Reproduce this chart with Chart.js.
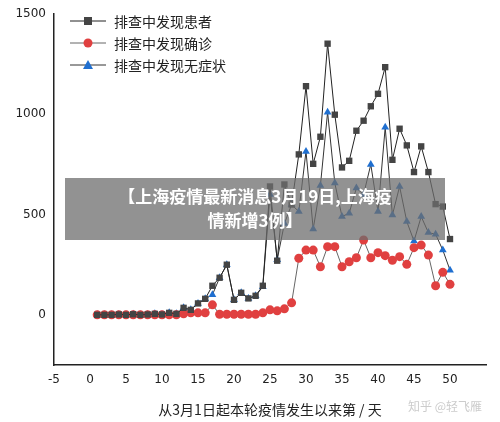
<!DOCTYPE html>
<html><head><meta charset="utf-8">
<script src="https://cdn.jsdelivr.net/npm/chart.js@4/dist/chart.umd.min.js"></script>
<style>
body{margin:0;background:#fff;font-family:"Noto Sans CJK SC",sans-serif}
#wrap{position:relative;width:500px;height:422px}
#legend{position:absolute;left:70px;top:10px;font-size:14px;color:#222;line-height:22px}
#legend div{display:flex;align-items:center}
#legend canvas{margin-right:8px}
#banner{position:absolute;left:65px;top:178px;width:380px;height:62px;background:rgba(110,110,110,.75);color:#fff;font-weight:bold;font-size:17px;text-align:center;line-height:24px;padding-top:6px;box-sizing:border-box}
#wm{position:absolute;right:18px;bottom:8px;color:#ccc;font-size:12px}
</style></head>
<body><div id="wrap"><canvas id="c" width="500" height="422"></canvas>
<div id="legend"></div>
<div id="banner">【上海疫情最新消息3月19日,上海疫<br>情新增3例】</div>
<div id="wm">知乎 @轻飞雁</div></div>
<script>
const days=[];for(let d=1;d<=50;d++)days.push(d);
const names=["排查中发现患者","排查中发现确诊","排查中发现无症状"];
const patients=[0,0,0,2,0,3,0,2,5,2,10,5,35,25,57,80,145,185,250,75,110,82,95,145,640,270,650,550,800,1140,753,888,1352,998,735,768,918,968,1040,1102,1235,773,928,845,712,840,712,552,540,378];
const confirmed=[0,0,0,0,0,0,0,0,0,0,0,0,5,10,10,10,50,3,3,3,3,3,3,10,25,20,30,60,282,323,323,240,340,340,240,265,285,373,285,310,295,272,290,252,335,348,298,145,212,152];
const asymptomatic=[0,0,0,2,0,3,0,2,5,2,10,5,35,25,57,80,100,185,250,75,110,82,95,140,600,275,455,550,515,815,428,645,1010,657,490,507,632,600,750,515,935,498,640,465,368,490,410,402,323,223];
const colors=["#444444","#e04040","#1f6fd0"];
const shapes=["rect","circle","triangle"];
const lineColors=["#222","#666","#333"];

const sets=[patients,confirmed,asymptomatic].map((v,i)=>({
label:names[i],data:days.map((d,j)=>({x:d,y:v[j]})),
borderColor:lineColors[i],borderWidth:1,backgroundColor:colors[i],
pointStyle:shapes[i],pointRadius:4.5,pointBorderWidth:0,pointBorderColor:colors[i]
}));

const lg=document.getElementById("legend");
names.forEach((n,i)=>{
const row=document.createElement("div");
const cv=document.createElement("canvas");cv.width=36;cv.height=14;
const g=cv.getContext("2d");
g.strokeStyle=lineColors[i];g.beginPath();g.moveTo(0,7);g.lineTo(36,7);g.stroke();
g.fillStyle=colors[i];g.beginPath();
if(i==0)g.rect(14,3,8,8);else if(i==1)g.arc(18,7,4.5,0,7);else{g.moveTo(18,2);g.lineTo(23,11);g.lineTo(13,11);}
g.fill();
row.appendChild(cv);row.appendChild(document.createTextNode(n));lg.appendChild(row);
});

const tickFont={family:"DejaVu Sans",size:12};
new Chart(document.getElementById("c"),{
type:"line",data:{datasets:sets},
options:{responsive:false,animation:false,
layout:{padding:{top:14,right:14,left:0,bottom:0}},
plugins:{legend:{display:false},tooltip:{enabled:false}},
scales:{
x:{type:"linear",min:-5,max:55,
ticks:{stepSize:5,color:"#222",font:tickFont,callback:v=>v==55?"":String(v)},
grid:{display:false,drawTicks:true,tickLength:5,tickColor:"#222"},
border:{color:"#222",width:1.5},
title:{display:true,text:"从3月1日起本轮疫情发生以来第 / 天",font:{family:"Noto Sans CJK SC",size:14},color:"#222"},
afterFit:a=>{a.height=57}},
y:{min:-250,max:1500,afterBuildTicks:a=>{a.ticks=[0,500,1000,1500].map(v=>({value:v}))},
ticks:{color:"#222",font:tickFont,callback:v=>String(v)},
grid:{display:false,tickLength:5,tickColor:"#222"},
border:{color:"#222",width:1.5},
afterFit:a=>{a.width=54}}
}}
});
</script></body></html>
